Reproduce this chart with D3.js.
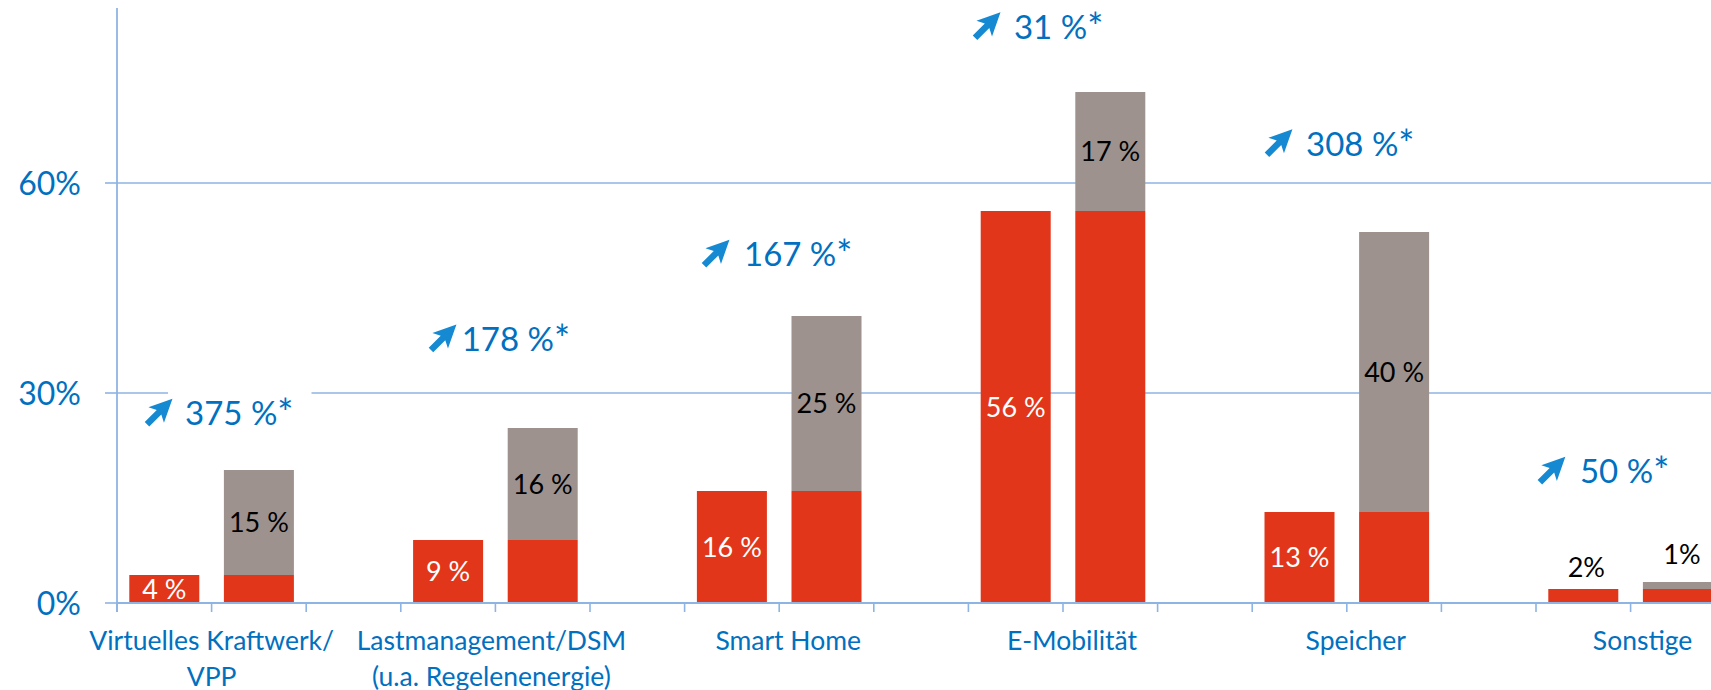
<!DOCTYPE html>
<html>
<head>
<meta charset="utf-8">
<script src="https://cdn.jsdelivr.net/npm/d3@7"></script>
<style>
  html, body { margin: 0; padding: 0; background: #ffffff; }
  svg { display: block; }
  text { font-family: "Lato", "Open Sans", sans-serif; }
</style>
</head>
<body>
<svg id="chart" width="1711" height="690"></svg>
<script>
// ---------- data ----------
const categories = ["Virtuelles Kraftwerk/\nVPP", "Lastmanagement/DSM\n(u.a. Regelenenergie)", "Smart Home", "E-Mobilität", "Speicher", "Sonstige"];
const todayShare = [4, 9, 16, 56, 13, 2];        // red bars (and red base of second bar)
const addedShare = [15, 16, 25, 17, 40, 1];      // grey increment on second bar
const growthPct  = [375, 178, 167, 31, 308, 50]; // growth annotations
const yTicks     = [0, 30, 60];

// annotation placement (data units: slot offsets inside group, value for baseline)
const arrowSlot   = [0.296, 0.298, 0.184, 0.049, 0.135, 0.020];
const textSlot    = [0.719, 0.644, 0.628, 0.482, 0.569, 0.465];
const growthValue = [25.4, 36.0, 48.1, 80.6, 63.9, 17.1];
const labelShift  = [0, -4, 9, 9, 9, 12];

// ---------- layout ----------
const W = 1711, H = 690;
const x0 = 117, slotW = 94.6;
const slotsPerGroup = 3;
const slots = d3.range(categories.length * slotsPerGroup);

const svg = d3.select("#chart");

const xSlot = d3.scaleBand()
  .domain(slots)
  .range([x0, x0 + slots.length * slotW])
  .paddingInner(0).paddingOuter(0);

const y = d3.scaleLinear().domain([0, 85]).range([603, 8]);

const RED = "#E2361A", GREY = "#9D928E", BLUE = "#0070C0", ARROW = "#1589D1", GRID = "#8EB4E3";

const slotX = s => x0 + s * xSlot.step();

// gridlines
svg.append("g").selectAll("line")
  .data(yTicks.filter(d => d > 0))
  .join("line")
  .attr("x1", x0).attr("x2", W)
  .attr("y1", d => y(d)).attr("y2", d => y(d))
  .attr("stroke", GRID).attr("stroke-width", 1.6);

// growth label white boxes (cover gridlines)
const gBoxes = svg.append("g");

// bars
const barW = xSlot.bandwidth() * 0.74;
const barOff = (xSlot.bandwidth() - barW) / 2;
const gBars = svg.append("g");

categories.forEach((c, i) => {
  const sA = i * slotsPerGroup, sB = sA + 1;
  gBars.append("rect")
    .attr("x", xSlot(sA) + barOff).attr("width", barW)
    .attr("y", y(todayShare[i])).attr("height", y(0) - y(todayShare[i]))
    .attr("fill", RED);
  gBars.append("rect")
    .attr("x", xSlot(sB) + barOff).attr("width", barW)
    .attr("y", y(todayShare[i])).attr("height", y(0) - y(todayShare[i]))
    .attr("fill", RED);
  gBars.append("rect")
    .attr("x", xSlot(sB) + barOff).attr("width", barW)
    .attr("y", y(todayShare[i] + addedShare[i])).attr("height", y(todayShare[i]) - y(todayShare[i] + addedShare[i]))
    .attr("fill", GREY);
});

// axes
const axisG = svg.append("g");
axisG.append("line")
  .attr("x1", x0).attr("x2", W).attr("y1", y(0)).attr("y2", y(0))
  .attr("stroke", GRID).attr("stroke-width", 1.8);
axisG.append("g").selectAll("line")
  .data(d3.range(slots.length + 1))
  .join("line")
  .attr("x1", d => slotX(d)).attr("x2", d => slotX(d))
  .attr("y1", y(0)).attr("y2", y(0) + 9)
  .attr("stroke", GRID).attr("stroke-width", 1.6);
axisG.append("line")
  .attr("x1", x0).attr("x2", x0).attr("y1", y(0) + 9).attr("y2", y(85))
  .attr("stroke", GRID).attr("stroke-width", 1.8);
axisG.append("g").selectAll("line")
  .data(yTicks)
  .join("line")
  .attr("x1", x0 - 12).attr("x2", x0)
  .attr("y1", d => y(d)).attr("y2", d => y(d))
  .attr("stroke", GRID).attr("stroke-width", 1.6);
axisG.append("g").selectAll("text")
  .data(yTicks)
  .join("text")
  .attr("x", 81).attr("y", d => y(d) + 11.5)
  .attr("text-anchor", "end")
  .attr("fill", BLUE)
  .style("font-size", "32px")
  .text(d => d + "%");

// category labels
const catG = svg.append("g");
categories.forEach((c, i) => {
  const cx = slotX(i * slotsPerGroup + 1) + labelShift[i];
  const t = catG.append("text")
    .attr("text-anchor", "middle")
    .attr("fill", BLUE)
    .style("font-size", "26.5px");
  c.split("\n").forEach((line, j) => {
    t.append("tspan").attr("x", cx).attr("y", 650 + j * 35.5).text(line);
  });
});

// data labels
const lblG = svg.append("g");
const fmt = v => v + " %";
categories.forEach((c, i) => {
  const sA = i * slotsPerGroup, sB = sA + 1;
  const aTop = y(todayShare[i]), base = y(0);
  const gTop = y(todayShare[i] + addedShare[i]);
  const cxA = xSlot(sA) + xSlot.bandwidth() / 2;
  const cxB = xSlot(sB) + xSlot.bandwidth() / 2;
  if (base - aTop > 25) {
    lblG.append("text").attr("x", cxA).attr("y", (aTop + base) / 2 + 9.5)
      .attr("text-anchor", "middle").attr("fill", "#ffffff")
      .style("font-size", "27px").text(fmt(todayShare[i]));
  } else {
    lblG.append("text").attr("x", cxA + 3).attr("y", aTop - 12.5)
      .attr("text-anchor", "middle").attr("fill", "#000000")
      .style("font-size", "27px").text(todayShare[i] + "%");
  }
  if (aTop - gTop > 25) {
    lblG.append("text").attr("x", cxB).attr("y", (gTop + aTop) / 2 + 9.5)
      .attr("text-anchor", "middle").attr("fill", "#000000")
      .style("font-size", "27px").text(fmt(addedShare[i]));
  } else {
    lblG.append("text").attr("x", cxB + 4).attr("y", gTop - 18)
      .attr("text-anchor", "middle").attr("fill", "#000000")
      .style("font-size", "27px").text(addedShare[i] + "%");
  }
});

// growth annotations
const grG = svg.append("g");
const arrowPath = "M0,-3.2 L17,-3.2 L13,-11 L36,0 L13,11 L17,3.2 L0,3.2 Z";
growthPct.forEach((g, i) => {
  const base = y(growthValue[i]);
  const tx = slotX(i * slotsPerGroup + textSlot[i]);
  const ax = slotX(i * slotsPerGroup + arrowSlot[i]);
  const t = grG.append("text")
    .attr("x", tx).attr("y", base)
    .attr("fill", BLUE)
    .style("font-size", "33px");
  t.append("tspan").text(g + " %");
  t.append("tspan").style("font-size", "38px").attr("dy", 2).text("*");
  const bb = t.node().getBBox();
  gBoxes.append("rect")
    .attr("x", tx - 17).attr("width", bb.width + 35)
    .attr("y", base - 40).attr("height", 55)
    .attr("fill", "#ffffff");
  grG.append("path")
    .attr("d", arrowPath)
    .attr("fill", ARROW)
    .attr("transform", `translate(${ax + 2},${base - 1}) rotate(-45)`);
});
</script>
</body>
</html>
